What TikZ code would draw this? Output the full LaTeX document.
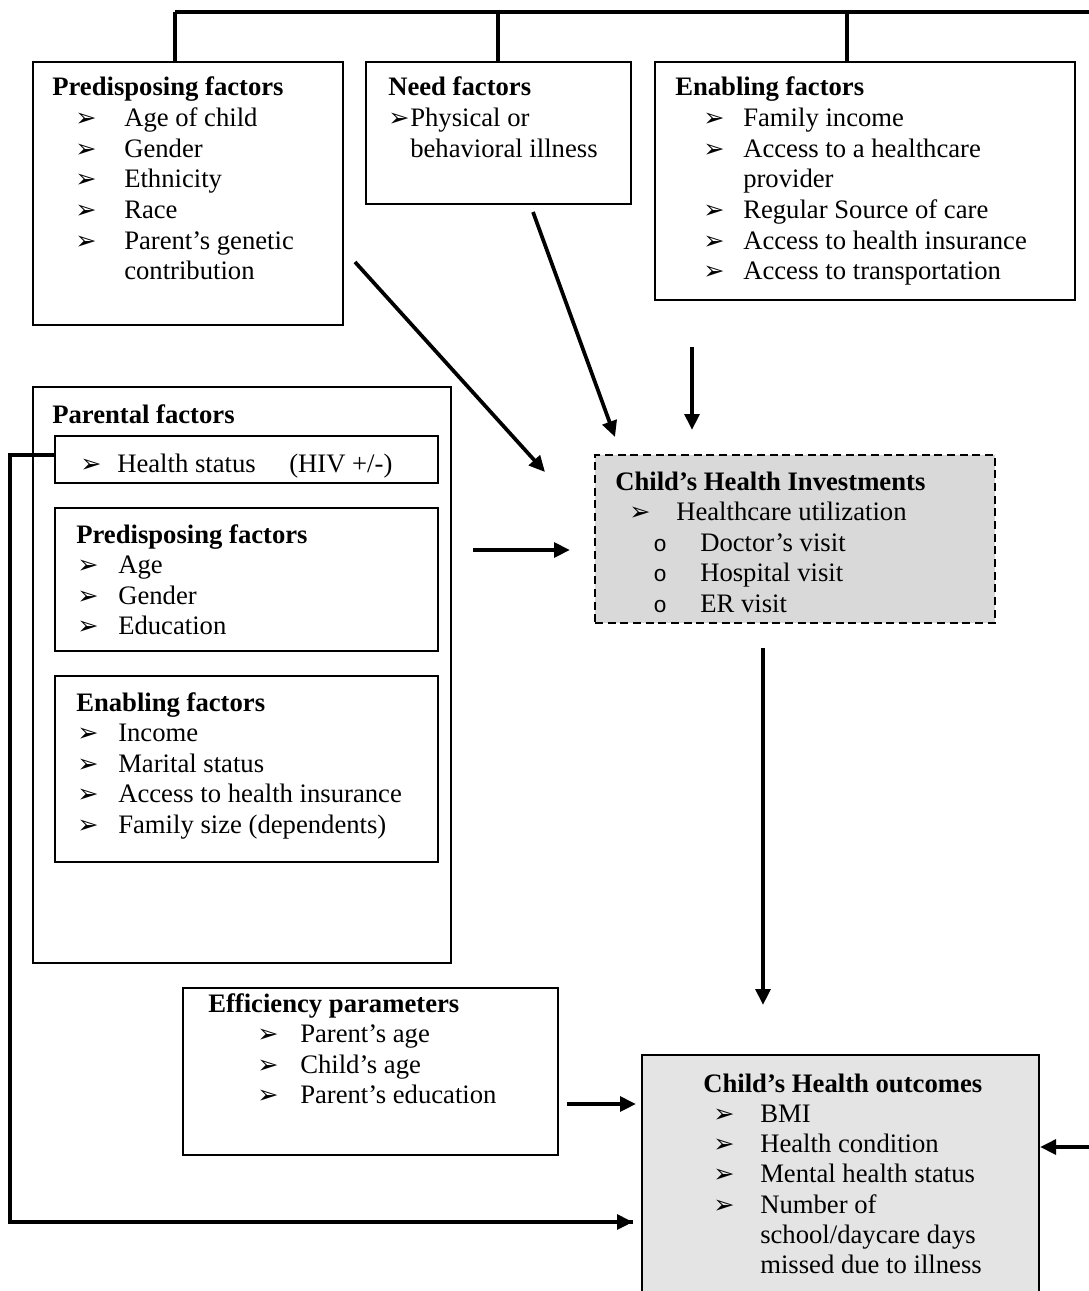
\documentclass[tikz,border=0pt]{standalone}
\usepackage{fontspec}
\setmainfont{Liberation Serif}
\newfontfamily\dej{DejaVu Sans}
\newfontfamily\cour{Liberation Mono}
\usetikzlibrary{arrows.meta}
\definecolor{invfill}{HTML}{D9D9D9}
\definecolor{outfill}{HTML}{E4E4E4}
\newcommand\mybox[6]{\node[#6, minimum width={(#4-#2)*0.75pt}, minimum height={(#5-#3)*0.75pt}] (#1) at ({(#2+#4)/2},{(#3+#5)/2}) {};}
\newcommand\itm[5]{\node[bul] (#1b) at (#2,#4) {➢};\node[txt] (#1) at (#3,#4) {#5};}
\newcommand\sitm[5]{\node[cir] (#1b) at (#2,#4) {o};\node[txt] (#1) at (#3,#4) {#5};}
\begin{document}
\begin{tikzpicture}[x=0.75pt,y=-0.75pt,
 box/.style={draw, line width=1.4pt, rectangle, inner sep=0},
 ibox/.style={draw, line width=1.2pt, rectangle, inner sep=0},
 txt/.style={anchor=base west, inner sep=0, font=\fontsize{20}{23}\selectfont},
 ttl/.style={anchor=base west, inner sep=0, font=\fontsize{20}{23}\selectfont\bfseries},
 bul/.style={anchor=base west, inner sep=0, font=\dej\fontsize{19}{19}\selectfont},
 cir/.style={anchor=base west, inner sep=0, font=\cour\fontsize{17}{17}\selectfont},
 arr/.style={line width=2.8pt, -{Triangle[length=12pt,width=11pt]}},
 topline/.style={line width=3pt},
 fb/.style={line width=2.8pt}
 ]
\useasboundingbox (0,0) rectangle (1088,1291);

% ---- top row boxes
\mybox{pf}{33}{62}{343}{325}{box}
\node[ttl] (pft) at (52,96) {Predisposing factors};
\itm{pf1}{75}{124}{126.6}{Age of child}
\itm{pf2}{75}{124}{157.2}{Gender}
\itm{pf3}{75}{124}{187.8}{Ethnicity}
\itm{pf4}{75}{124}{218.4}{Race}
\itm{pf5}{75}{124}{249}{Parent’s genetic}
\node[txt] (pf6) at (124,279.6) {contribution};

\mybox{nf}{366}{62}{631}{204}{box}
\node[ttl] (nft) at (388,96) {Need factors};
\itm{nf1}{388}{410}{126.6}{Physical or}
\node[txt] (nf2) at (410,157.2) {behavioral illness};

\mybox{ef}{655}{62}{1075}{300}{box}
\node[ttl] (eft) at (675,96) {Enabling factors};
\itm{ef1}{703}{743}{126.6}{Family income}
\itm{ef2}{703}{743}{157.2}{Access to a healthcare}
\node[txt] (ef3) at (743,187.8) {provider};
\itm{ef4}{703}{743}{218.4}{Regular Source of care}
\itm{ef5}{703}{743}{249}{Access to health insurance}
\itm{ef6}{703}{743}{279.6}{Access to transportation}

% ---- top bracket
\coordinate (tA) at (175,12);
\coordinate (tB) at (498,12);
\coordinate (tC) at (847,12);
\coordinate (tR) at (1090,12);
\draw[topline] (tA) -- (tR);
\draw[topline] (tA) -- (pf.north -| tA);
\draw[topline] (tB) -- (nf.north -| tB);
\draw[topline] (tC) -- (ef.north -| tC);

% ---- parental factors
\mybox{par}{33}{387}{451}{963}{box}
\node[ttl] (part) at (52,423) {Parental factors};
\mybox{hs}{55}{436}{438}{483}{ibox}
\itm{hs1}{80}{117}{472}{Health status}
\node[txt] (hs2) at (289,472) {(HIV +/-)};

\mybox{ipf}{55}{508}{438}{651}{ibox}
\node[ttl] (ipft) at (76,543) {Predisposing factors};
\itm{ipf1}{77}{118}{573.6}{Age}
\itm{ipf2}{77}{118}{604.2}{Gender}
\itm{ipf3}{77}{118}{634.8}{Education}

\mybox{ief}{55}{676}{438}{862}{ibox}
\node[ttl] (ieft) at (76,711) {Enabling factors};
\itm{ief1}{77}{118}{741.6}{Income}
\itm{ief2}{77}{118}{772.2}{Marital status}
\itm{ief3}{77}{118}{802.8}{Access to health insurance}
\itm{ief4}{77}{118}{833.4}{Family size (dependents)}

% ---- investments
\mybox{inv}{595}{455}{995}{623}{box, line width=1.3pt, dash pattern=on 6pt off 3.5pt, fill=invfill}
\node[ttl] (invt) at (615,490) {Child’s Health Investments};
\itm{inv1}{629}{676}{520.6}{Healthcare utilization}
\sitm{inv2}{653}{700}{551.2}{Doctor’s visit}
\sitm{inv3}{653}{700}{581.8}{Hospital visit}
\sitm{inv4}{653}{700}{612.4}{ER visit}

% ---- efficiency
\mybox{eff}{183}{988}{558}{1155}{box}
\node[ttl] (efft) at (208,1012) {Efficiency parameters};
\itm{eff1}{257}{300}{1042.6}{Parent’s age}
\itm{eff2}{257}{300}{1073.2}{Child’s age}
\itm{eff3}{257}{300}{1103.8}{Parent’s education}

% ---- outcomes
\mybox{out}{642}{1055}{1039}{1298}{box, fill=outfill}
\node[ttl] (outt) at (703,1092) {Child’s Health outcomes};
\itm{out1}{713}{760}{1122.3}{BMI}
\itm{out2}{713}{760}{1152.6}{Health condition}
\itm{out3}{713}{760}{1182.9}{Mental health status}
\itm{out4}{713}{760}{1213.2}{Number of}
\node[txt] (out5) at (760,1243.5) {school/daycare days};
\node[txt] (out6) at (760,1273.8) {missed due to illness};

% ---- arrows
\coordinate (a1s) at (355,262); \coordinate (a1e) at (545,472);
\coordinate (a2s) at (533,212); \coordinate (a2e) at (615,437);
\coordinate (a3s) at (692,347); \coordinate (a3e) at (692,430);
\coordinate (a4s) at (473,550); \coordinate (a4e) at (570,550);
\coordinate (a5s) at (763,648); \coordinate (a5e) at (763,1005);
\coordinate (a6s) at (567,1104); \coordinate (a6e) at (636,1104);
\coordinate (a7s) at (1090,1147); \coordinate (a7e) at (1040,1147);
\draw[arr] (a1s) -- (a1e);
\draw[arr] (a2s) -- (a2e);
\draw[arr] (a3s) -- (a3e);
\draw[arr] (a4s) -- (a4e);
\draw[arr] (a5s) -- (a5e);
\draw[arr] (a6s) -- (a6e);
\draw[arr] (a7s) -- (a7e);

% ---- feedback from health status to outcomes
\coordinate (fbs) at (55,455);
\coordinate (fbc) at (10,455);
\coordinate (fbd) at (10,1222);
\coordinate (fbe) at (633,1222);
\draw[fb, line join=miter] (fbs) -- (fbc) -- (fbd) -- (fbe);
\draw[arr] (fbd) -- (fbe);
\end{tikzpicture}
\end{document}
